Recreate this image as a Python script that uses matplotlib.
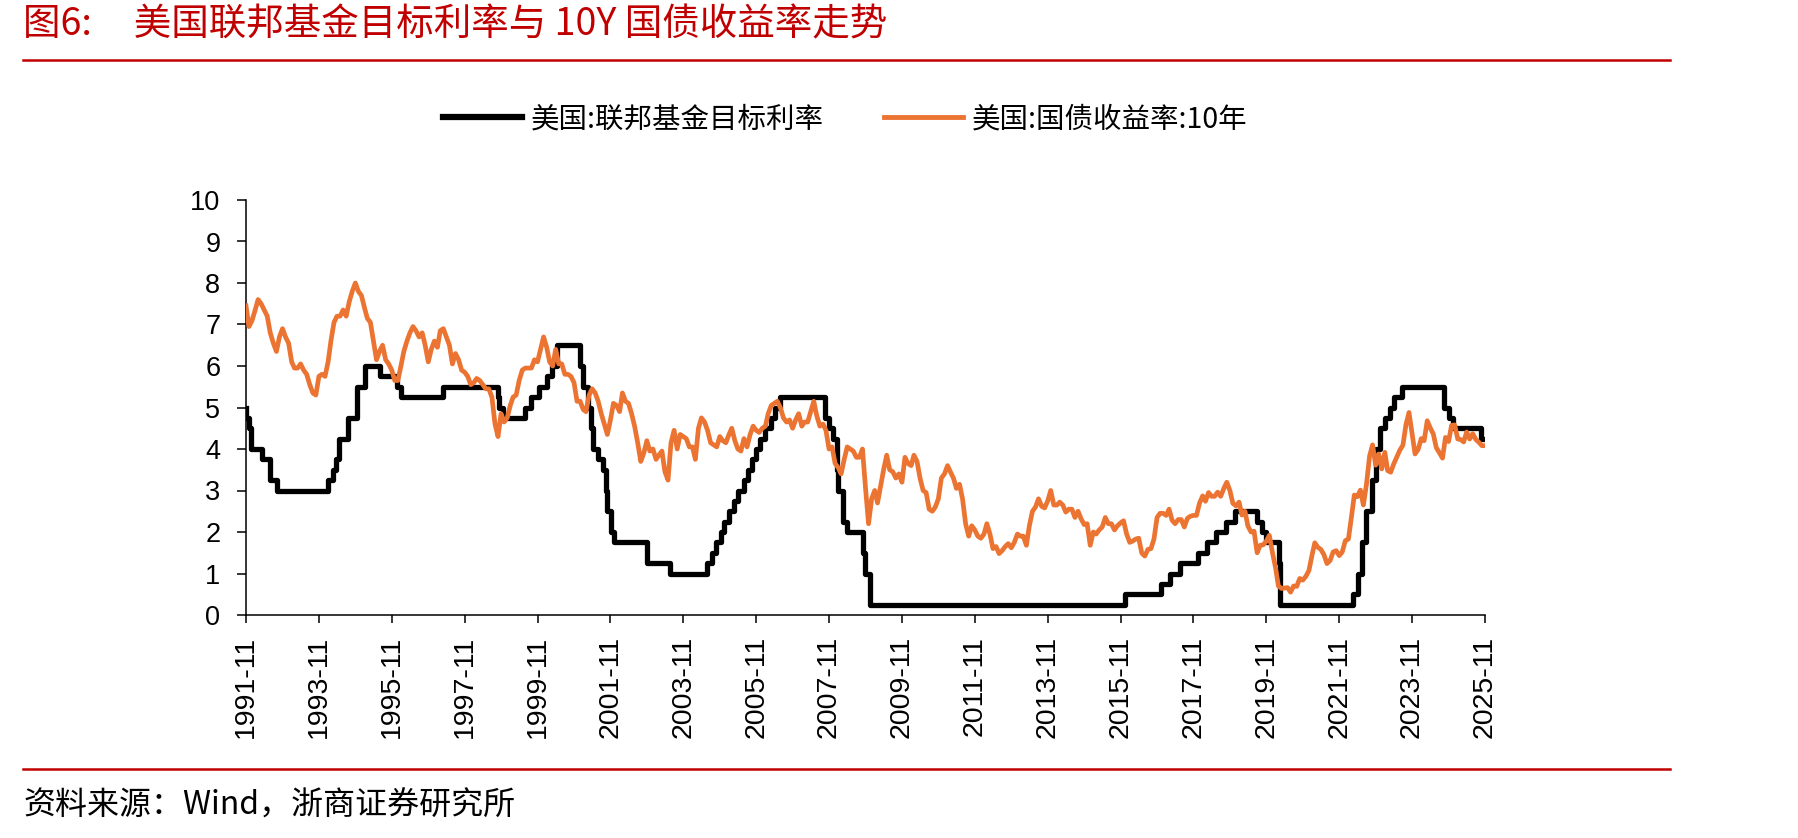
import matplotlib
matplotlib.use('Agg')
import matplotlib.pyplot as plt
import matplotlib.dates as mdates
from matplotlib.lines import Line2D
import pandas as pd

plt.rcParams['font.family'] = ['Noto Sans CJK SC', 'DejaVu Sans']

# Fed funds target rate (upper bound), step changes
fed_dates = ['1991-11-01', '1991-11-06', '1991-12-06', '1991-12-20', '1992-04-09', '1992-07-02',
             '1992-09-04', '1994-02-04', '1994-03-22', '1994-04-18', '1994-05-17', '1994-08-16',
             '1994-11-15', '1995-02-01', '1995-07-06', '1995-12-19', '1996-01-31', '1997-03-25',
             '1998-09-29', '1998-10-15', '1998-11-17', '1999-06-30', '1999-08-24', '1999-11-16',
             '2000-02-02', '2000-03-21', '2000-05-16', '2001-01-03', '2001-01-31', '2001-03-20',
             '2001-04-18', '2001-05-15', '2001-06-27', '2001-08-21', '2001-09-17', '2001-10-02',
             '2001-11-06', '2001-12-11', '2002-11-06', '2003-06-25', '2004-06-30', '2004-08-10',
             '2004-09-21', '2004-11-10', '2004-12-14', '2005-02-02', '2005-03-22', '2005-05-03',
             '2005-06-30', '2005-08-09', '2005-09-20', '2005-11-01', '2005-12-13', '2006-01-31',
             '2006-03-28', '2006-05-10', '2006-06-29', '2007-09-18', '2007-10-31', '2007-12-11',
             '2008-01-22', '2008-01-30', '2008-03-18', '2008-04-30', '2008-10-08', '2008-10-29',
             '2008-12-16', '2015-12-16', '2016-12-14', '2017-03-15', '2017-06-14', '2017-12-13',
             '2018-03-21', '2018-06-13', '2018-09-26', '2018-12-19', '2019-07-31', '2019-09-18',
             '2019-10-30', '2020-03-03', '2020-03-15', '2022-03-16', '2022-05-04', '2022-06-15',
             '2022-07-27', '2022-09-21', '2022-11-02', '2022-12-14', '2023-02-01', '2023-03-22',
             '2023-05-03', '2023-07-26', '2024-09-18', '2024-11-07', '2024-12-18', '2025-09-17',
             '2025-10-31']
fed_rates = [5.0, 4.75, 4.5, 4.0, 3.75, 3.25,
             3.0, 3.25, 3.5, 3.75, 4.25, 4.75,
             5.5, 6.0, 5.75, 5.5, 5.25, 5.5,
             5.25, 5.0, 4.75, 5.0, 5.25, 5.5,
             5.75, 6.0, 6.5, 6.0, 5.5, 5.0,
             4.5, 4.0, 3.75, 3.5, 3.0, 2.5,
             2.0, 1.75, 1.25, 1.0, 1.25, 1.5,
             1.75, 2.0, 2.25, 2.5, 2.75, 3.0,
             3.25, 3.5, 3.75, 4.0, 4.25, 4.5,
             4.75, 5.0, 5.25, 4.75, 4.5, 4.25,
             3.5, 3.0, 2.25, 2.0, 1.5, 1.0,
             0.25, 0.5, 0.75, 1.0, 1.25, 1.5,
             1.75, 2.0, 2.25, 2.5, 2.25, 2.0,
             1.75, 1.25, 0.25, 0.5, 1.0, 1.75,
             2.5, 3.25, 4.0, 4.5, 4.75, 5.0,
             5.25, 5.5, 5.0, 4.75, 4.5, 4.25,
             4.25]

# US 10Y treasury yield, monthly from 1991-11 to 2025-11
ust10y = [
    7.45, 6.95,                                                              # 1991
    7.10, 7.35, 7.60, 7.50, 7.35, 7.20, 6.80, 6.55, 6.35, 6.70, 6.90, 6.70,  # 1992
    6.55, 6.10, 5.95, 5.95, 6.05, 5.90, 5.80, 5.55, 5.35, 5.30, 5.75, 5.80,  # 1993
    5.75, 6.10, 6.60, 7.05, 7.20, 7.20, 7.35, 7.20, 7.55, 7.80, 8.00, 7.80,  # 1994
    7.70, 7.40, 7.15, 7.05, 6.60, 6.15, 6.35, 6.50, 6.15, 6.05, 5.90, 5.65,  # 1995
    5.65, 6.00, 6.35, 6.60, 6.80, 6.95, 6.85, 6.70, 6.80, 6.50, 6.10, 6.40,  # 1996
    6.60, 6.45, 6.85, 6.90, 6.70, 6.50, 6.05, 6.30, 6.15, 5.90, 5.85, 5.75,  # 1997
    5.55, 5.60, 5.70, 5.65, 5.55, 5.45, 5.45, 5.25, 4.60, 4.30, 4.85, 4.65,  # 1998
    4.75, 5.05, 5.25, 5.30, 5.65, 5.90, 5.95, 5.95, 5.95, 6.15, 6.10, 6.40,  # 1999
    6.70, 6.45, 6.10, 6.00, 6.40, 6.05, 6.05, 5.80, 5.80, 5.75, 5.60, 5.15,  # 2000
    5.15, 4.95, 4.90, 5.30, 5.45, 5.35, 5.15, 4.85, 4.60, 4.35, 4.70, 5.10,  # 2001
    5.05, 4.90, 5.35, 5.15, 5.10, 4.85, 4.55, 4.15, 3.70, 3.90, 4.20, 3.95,  # 2002
    4.00, 3.75, 3.85, 3.95, 3.45, 3.25, 4.15, 4.45, 4.00, 4.35, 4.30, 4.25,  # 2003
    4.05, 4.05, 3.75, 4.50, 4.75, 4.65, 4.45, 4.15, 4.10, 4.05, 4.30, 4.20,  # 2004
    4.15, 4.35, 4.50, 4.20, 4.00, 3.95, 4.25, 4.05, 4.35, 4.55, 4.45, 4.40,  # 2005
    4.50, 4.55, 4.85, 5.05, 5.10, 5.15, 5.00, 4.75, 4.65, 4.70, 4.50, 4.70,  # 2006
    4.85, 4.55, 4.65, 4.65, 4.90, 5.15, 4.80, 4.55, 4.60, 4.45, 4.00, 4.05,  # 2007
    3.65, 3.55, 3.40, 3.75, 4.05, 4.00, 3.95, 3.80, 3.80, 4.00, 3.05, 2.20,  # 2008
    2.80, 3.00, 2.70, 3.10, 3.50, 3.85, 3.50, 3.45, 3.30, 3.40, 3.20, 3.80,  # 2009
    3.65, 3.60, 3.85, 3.70, 3.30, 3.00, 2.95, 2.55, 2.50, 2.60, 2.80, 3.30,  # 2010
    3.40, 3.60, 3.45, 3.30, 3.05, 3.15, 2.80, 2.20, 1.90, 2.15, 2.05, 1.90,  # 2011
    1.85, 1.95, 2.20, 1.95, 1.60, 1.65, 1.48, 1.55, 1.65, 1.72, 1.62, 1.75,  # 2012
    1.95, 1.90, 1.90, 1.68, 2.15, 2.50, 2.60, 2.80, 2.62, 2.58, 2.75, 3.00,  # 2013
    2.65, 2.65, 2.72, 2.65, 2.48, 2.55, 2.55, 2.35, 2.50, 2.32, 2.18, 2.20,  # 2014
    1.68, 2.00, 1.95, 2.05, 2.12, 2.35, 2.20, 2.20, 2.05, 2.15, 2.22, 2.27,  # 2015
    1.95, 1.75, 1.78, 1.83, 1.85, 1.49, 1.42, 1.58, 1.60, 1.83, 2.35, 2.45,  # 2016
    2.45, 2.40, 2.55, 2.28, 2.20, 2.30, 2.30, 2.12, 2.33, 2.38, 2.40, 2.40,  # 2017
    2.70, 2.87, 2.74, 2.95, 2.86, 2.86, 2.96, 2.86, 3.05, 3.20, 3.00, 2.69,  # 2018
    2.63, 2.72, 2.41, 2.50, 2.14, 2.00, 2.02, 1.50, 1.68, 1.69, 1.78, 1.92,  # 2019
    1.51, 1.15, 0.70, 0.64, 0.65, 0.66, 0.55, 0.70, 0.69, 0.88, 0.84, 0.93,  # 2020
    1.07, 1.44, 1.74, 1.63, 1.58, 1.45, 1.24, 1.31, 1.52, 1.55, 1.43, 1.52,  # 2021
    1.79, 1.83, 2.32, 2.89, 2.85, 3.01, 2.65, 3.15, 3.83, 4.10, 3.61, 3.88,  # 2022
    3.52, 3.92, 3.48, 3.44, 3.64, 3.81, 3.97, 4.09, 4.59, 4.88, 4.37, 3.88,  # 2023
    3.99, 4.25, 4.20, 4.68, 4.51, 4.36, 4.03, 3.91, 3.78, 4.28, 4.18, 4.57,  # 2024
    4.58, 4.24, 4.23, 4.17, 4.41, 4.24, 4.37, 4.23, 4.16, 4.08, 4.08,        # 2025
]

title = '图6:     美国联邦基金目标利率与 10Y 国债收益率走势'
source = '资料来源：Wind，浙商证券研究所'
legend_labels = ['美国:联邦基金目标利率', '美国:国债收益率:10年']
red = '#C00000'
orange = '#EC7432'

fed_x = pd.to_datetime(fed_dates)
ust_x = pd.date_range('1991-11-01', periods=len(ust10y), freq='MS')

fig = plt.figure(figsize=(17.98, 8.38), dpi=100)
ax = fig.add_axes([246 / 1798, 1 - 615 / 838, 1239 / 1798, 415 / 838])

ax.step(fed_x, fed_rates, where='post', color='black', lw=3.8, zorder=2)
ax.plot(ust_x, ust10y, color=orange, lw=3.4, zorder=3)

# axes styling
ax.set_ylim(0, 10)
ax.set_yticks(range(0, 11))
ax.set_xlim(pd.Timestamp('1991-11-01'), pd.Timestamp('2025-11-01'))
ax.set_xticks(pd.date_range('1991-11-01', '2025-11-01', freq='24MS'))
ax.xaxis.set_major_formatter(mdates.DateFormatter('%Y-%m'))
for s in ['top', 'right']:
    ax.spines[s].set_visible(False)
for s in ['left', 'bottom']:
    ax.spines[s].set_linewidth(1.1)
ax.tick_params(axis='y', length=6.5, width=1.1, pad=12, labelsize=19.5)
ax.tick_params(axis='x', length=6, width=1.1, pad=9, labelsize=20.5, labelrotation=90)
for lab in ax.get_xticklabels() + ax.get_yticklabels():
    lab.set_fontfamily('Liberation Sans')

# legend
handles = [Line2D([], [], color='black', lw=4.5), Line2D([], [], color=orange, lw=3.5)]
fig.legend(handles, legend_labels, loc='center', bbox_to_anchor=(845 / 1798, 1 - 119 / 838),
           ncol=2, frameon=False, fontsize=20.5, handlelength=2.8, handletextpad=0.3,
           columnspacing=2.1)

# title, source and red rules
fig.text(23 / 1798, 1 - 25 / 838, title, color=red, fontsize=27, va='center', ha='left')
fig.add_artist(Line2D([23 / 1798, 1670 / 1798], [1 - 60 / 838] * 2, color=red, lw=1.8))
fig.add_artist(Line2D([23 / 1798, 1670 / 1798], [1 - 769 / 838] * 2, color=red, lw=1.8))
fig.text(23 / 1798, 1 - 806 / 838, source, color='black', fontsize=23, va='center', ha='left')

fig.savefig('out.png', dpi=100)
